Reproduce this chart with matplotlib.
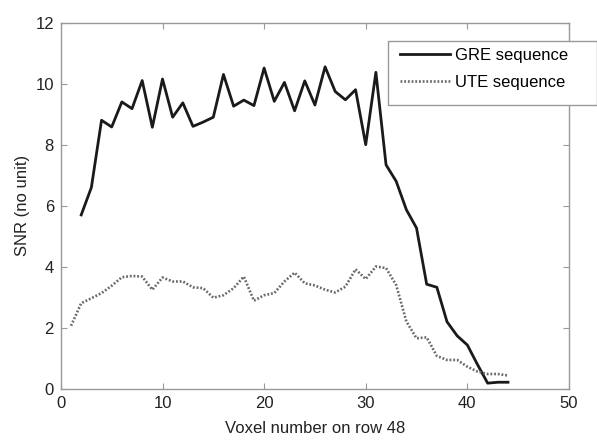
import numpy as np
import matplotlib.pyplot as plt
from matplotlib.patches import Rectangle

plt.rcParams['font.family'] = ['Liberation Sans', 'DejaVu Sans']

# SNR along row 48 for the two sequences
gre_voxel = np.arange(2, 45)
gre_snr = [5.7, 6.6, 8.8, 8.58, 9.4, 9.18, 10.1, 8.57, 10.15, 8.9,
           9.37, 8.6, 8.74, 8.9, 10.3, 9.26, 9.46, 9.28, 10.51, 9.42,
           10.04, 9.11, 10.09, 9.3, 10.55, 9.74, 9.47, 9.8, 8.0, 10.37,
           7.34, 6.8, 5.87, 5.27, 3.43, 3.33, 2.2, 1.74, 1.44, 0.8,
           0.19, 0.22, 0.22]

ute_voxel = np.arange(1, 45)
ute_snr = [2.07, 2.81, 2.97, 3.14, 3.38, 3.66, 3.7, 3.68, 3.25, 3.65,
           3.52, 3.52, 3.33, 3.3, 2.99, 3.07, 3.3, 3.68, 2.89, 3.07,
           3.14, 3.52, 3.81, 3.46, 3.39, 3.25, 3.16, 3.35, 3.92, 3.6,
           4.01, 3.96, 3.4, 2.21, 1.66, 1.69, 1.08, 0.95, 0.95, 0.73,
           0.57, 0.49, 0.49, 0.44]

x_ticks = [0, 10, 20, 30, 40, 50]
y_ticks = [0, 2, 4, 6, 8, 10, 12]

W, H = 597, 442
fig = plt.figure(figsize=(W / 100, H / 100), dpi=100)
ax = fig.add_axes([0.102, 0.12, 0.851, 0.829])

ax.plot(gre_voxel, gre_snr, color='#1a1a1a', lw=2.0, label='GRE sequence')
ax.plot(ute_voxel, ute_snr, color='#6a6a6a', lw=1.9, dashes=(0.7, 0.7),
        label='UTE sequence')

ax.set_xlim(0, 50)
ax.set_ylim(0, 12)
ax.set_xticks(x_ticks)
ax.set_yticks(y_ticks)
ax.tick_params(direction='in', length=4, width=0.8, color='#999999',
               labelsize=12, labelcolor='#222222', top=True, right=True, pad=5)
for s in ax.spines.values():
    s.set_color('#999999')
    s.set_linewidth(1.0)

ax.set_xlabel('Voxel number on row 48', fontsize=12, color='#222222', labelpad=7)
ax.set_ylabel('SNR (no unit)', fontsize=12, color='#222222', labelpad=4)

# legend box runs past the right edge of the axes
box = Rectangle((388 / W, 1 - 105 / H), (W - 388) / W, 64 / H,
                transform=fig.transFigure, facecolor='white',
                edgecolor='#999999', lw=1.0, zorder=5)
fig.add_artist(box)
leg = ax.legend(loc='upper left', bbox_to_anchor=(392 / W, 1 - 40 / H),
                bbox_transform=fig.transFigure, fontsize=12, frameon=False,
                handlelength=3.0, handletextpad=0.3,
                borderpad=0.5, labelspacing=0.72, borderaxespad=0)
leg.set_zorder(6)
leg.remove()
fig.add_artist(leg)

fig.savefig('out.png', dpi=100)
